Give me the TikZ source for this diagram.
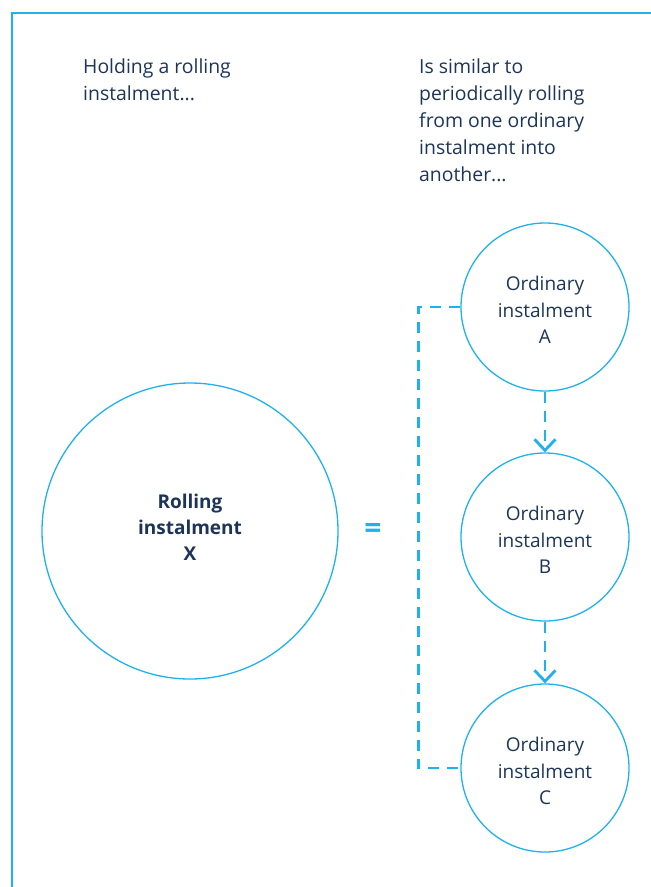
\documentclass[tikz,border=0pt]{standalone}
\usepackage{fontspec}
\setmainfont{Open Sans}
\usetikzlibrary{arrows.meta,positioning}

\definecolor{lineblue}{HTML}{1EB1EC}
\definecolor{textnavy}{HTML}{1C3557}

\tikzset{
  bubble/.style={circle,draw=lineblue,line width=1.3pt,inner sep=0pt,
    text=textnavy,align=center,font=\fontsize{19}{26.5}\selectfont},
  caption/.style={text=textnavy,align=left,anchor=north west,inner sep=0pt,
    font=\fontsize{19.4}{27}\selectfont},
  dashlink/.style={draw=lineblue,line width=2.8pt,dash pattern=on 11pt off 8pt},
  rollarrow/.style={dashlink,-{Straight Barb[length=11pt,width=21pt,line width=2.8pt]}}
}

\begin{document}
\begin{tikzpicture}[x=1pt,y=-1pt]
  \useasboundingbox (0,0) rectangle (651,887);
  % frame
  \draw[lineblue,line width=2pt] (12,887) -- (12,13) -- (651,13);

  % captions
  \node[caption] (left) at (83,59) {Holding a rolling\\instalment...};
  \node[caption] (right) at (419,59) {Is similar to\\periodically rolling\\from one ordinary\\instalment into\\another...};

  % instalments
  \node[bubble,minimum size=296pt,font=\fontsize{19}{26}\selectfont\bfseries] (X) at (190,531) {Rolling\\instalment\\X\\[-18pt]};
  \node[bubble,minimum size=168pt] (A) at (545,307) {\\[-6pt]Ordinary\\instalment\\A};
  \node[bubble,minimum size=168pt] (B) at (545,537) {\\[-6pt]Ordinary\\instalment\\B};
  \node[bubble,minimum size=168pt] (C) at (545,768) {\\[-6pt]Ordinary\\instalment\\C};

  \node[text=lineblue,font=\fontsize{30}{30}\selectfont\bfseries] (eq) at (373,531) {=};

  % links
  \draw[dashlink] (A.west) -- ++(-42,0) |- (C.west);
  \draw[rollarrow] (A.south) -- (B.north);
  \draw[rollarrow] (B.south) -- (C.north);
\end{tikzpicture}
\end{document}
